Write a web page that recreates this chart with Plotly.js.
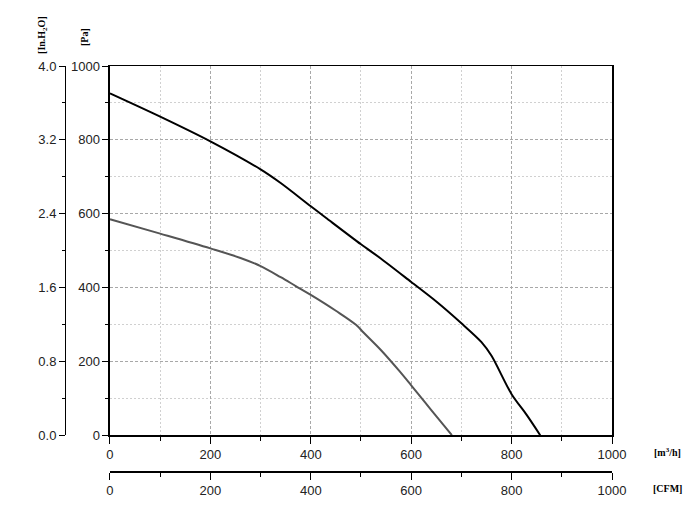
<!DOCTYPE html>
<html>
<head>
<meta charset="utf-8">
<script src="https://cdn.plot.ly/plotly-3.0.1.min.js"></script>
<style>html,body{margin:0;padding:0;background:#fff;}#chart{width:700px;height:516px;}</style>
</head>
<body>
<div id="chart"></div>
<script>
// Airflow (m3/h) and static pressure (Pa) for the two fan curves
const flowHigh = [0, 100, 200, 300, 340, 400, 430, 500, 540, 600, 650, 700, 740, 760, 800, 830, 857];
const paHigh   = [926, 863, 796, 720, 683, 620, 589, 517, 478, 415, 362, 303, 252, 215, 111, 55, 0];
const flowLow  = [0, 100, 200, 260, 300, 340, 370, 400, 450, 490, 505, 540, 575, 600, 640, 681];
const paLow    = [585, 546, 506, 480, 458, 428, 404, 380, 337, 299, 278, 230, 176, 135, 68, 0];

// Axis ranges
const flowRange = [0, 1000];
const paRange = [0, 1000];
const inh2oRange = [0, 4.0];
const cfmRange = [0, 1000];

const tickFont = {family: 'Liberation Sans, Arial, sans-serif', size: 13, color: '#222'};
const unitFont = {family: 'Liberation Serif, Times New Roman, serif', size: 10, color: '#000'};

const traces = [
  {x: flowHigh, y: paHigh, mode: 'lines', line: {color: '#000', width: 2, shape: 'spline', smoothing: 0.8}, hoverinfo: 'skip', showlegend: false},
  {x: flowLow, y: paLow, mode: 'lines', line: {color: '#555', width: 2, shape: 'spline', smoothing: 1.0}, hoverinfo: 'skip', showlegend: false},
  {x: cfmRange, y: inh2oRange, xaxis: 'x2', yaxis: 'y2', mode: 'markers', marker: {opacity: 0}, hoverinfo: 'skip', showlegend: false}
];

const majorGrid = {showgrid: true, gridcolor: '#a8a8a8', griddash: '3px,2px', gridwidth: 1};
const minorGrid = {showgrid: true, gridcolor: '#d0d0d0', griddash: '2px,2px', gridwidth: 1};

const layout = {
  width: 700, height: 516,
  margin: {l: 20, r: 88, t: 66, b: 30},
  paper_bgcolor: '#fff', plot_bgcolor: '#fff',
  showlegend: false,
  xaxis: Object.assign({
    domain: [0.152, 1], range: flowRange, anchor: 'y',
    tick0: 0, dtick: 200, ticks: 'outside', ticklen: 7, tickwidth: 1, tickcolor: '#000',
    showline: true, linecolor: '#000', linewidth: 1.5, mirror: true,
    zeroline: false, tickfont: tickFont,
    minor: Object.assign({dtick: 100, ticks: 'outside', ticklen: 4, tickcolor: '#000'}, minorGrid)
  }, majorGrid),
  yaxis: Object.assign({
    domain: [0.121, 1], range: paRange, anchor: 'x',
    tick0: 0, dtick: 200, ticks: 'outside', ticklen: 6, tickwidth: 1, tickcolor: '#000',
    showline: true, linecolor: '#000', linewidth: 1.5, mirror: true,
    zeroline: false, tickfont: tickFont,
    minor: Object.assign({dtick: 100, ticks: 'outside', ticklen: 3, tickcolor: '#000'}, minorGrid)
  }, majorGrid),
  xaxis2: {
    overlaying: 'x', anchor: 'free', position: 0.0357, side: 'bottom',
    range: cfmRange, tick0: 0, dtick: 200, ticks: 'outside', ticklen: 7, tickcolor: '#000',
    showline: true, linecolor: '#000', linewidth: 1.5, showgrid: false, zeroline: false,
    tickfont: tickFont,
    minor: {dtick: 100, ticks: 'outside', ticklen: 4, tickcolor: '#000', showgrid: false}
  },
  yaxis2: {
    overlaying: 'y', anchor: 'free', position: 0.076, side: 'left',
    range: inh2oRange, tick0: 0, dtick: 0.8, tickformat: '.1f', ticks: 'outside', ticklen: 6, tickcolor: '#000',
    showline: true, linecolor: '#000', linewidth: 1.5, showgrid: false, zeroline: false,
    tickfont: tickFont,
    minor: {dtick: 0.4, ticks: 'outside', ticklen: 3, tickcolor: '#000', showgrid: false}
  },
  annotations: [
    {text: '<b>[m<sup>3</sup>/h]</b>', xref: 'paper', yref: 'paper', x: 1.093, y: 0.081, showarrow: false, font: unitFont, xanchor: 'center', yanchor: 'middle'},
    {text: '<b>[CFM]</b>', xref: 'paper', yref: 'paper', x: 1.093, y: -0.007, showarrow: false, font: unitFont, xanchor: 'center', yanchor: 'middle'},
    {text: '<b>[In.H<sub>2</sub>O]</b>', xref: 'paper', yref: 'paper', x: 0.0389, y: 1.074, textangle: -90, showarrow: false, font: unitFont, xanchor: 'center', yanchor: 'middle'},
    {text: '<b>[Pa]</b>', xref: 'paper', yref: 'paper', x: 0.108, y: 1.069, textangle: -90, showarrow: false, font: unitFont, xanchor: 'center', yanchor: 'middle'}
  ]
};

Plotly.newPlot('chart', traces, layout, {staticPlot: true, displayModeBar: false});
</script>
</body>
</html>
